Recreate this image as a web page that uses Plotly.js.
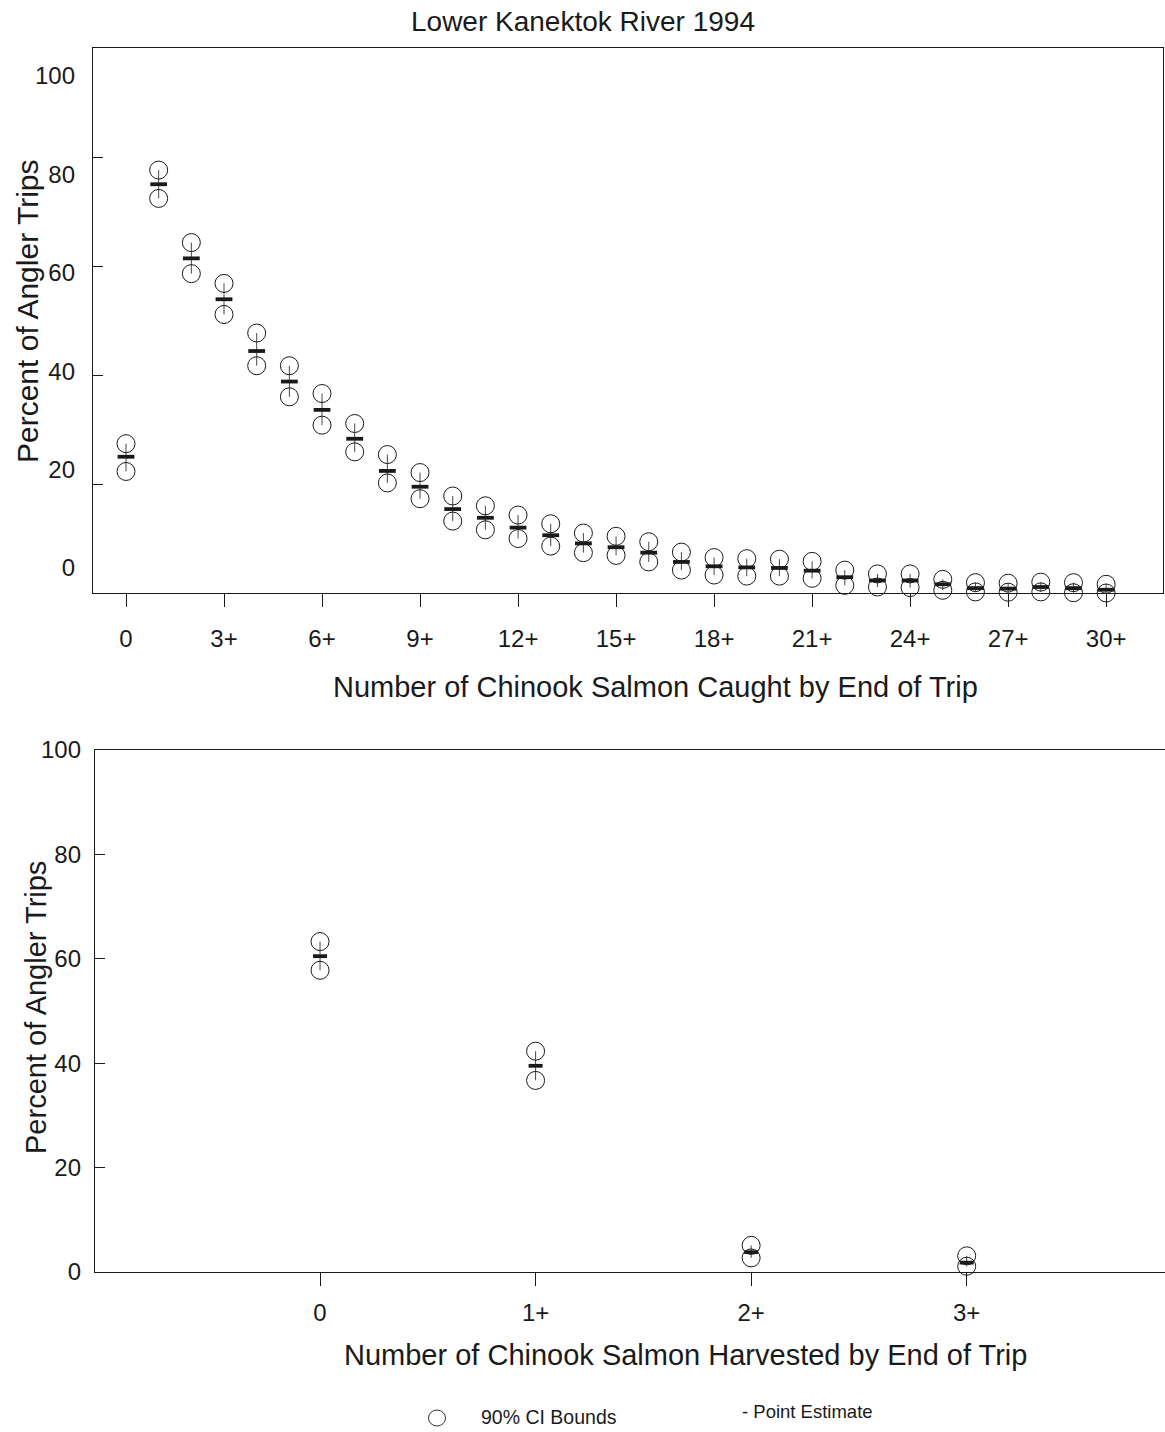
<!DOCTYPE html>
<html>
<head>
<meta charset="utf-8">
<script src="https://cdn.plot.ly/plotly-3.0.1.min.js"></script>
<style>html,body{margin:0;padding:0;background:#fff;}#chart{width:1165px;height:1432px;}</style>
</head>
<body>
<div id="chart"></div>
<script>
// ---- Data: catch (top panel) ----
const caughtCounts = [0,1,2,3,4,5,6,7,8,9,10,11,12,13,14,15,16,17,18,19,20,21,22,23,24,25,26,27,28,29,30];
const caughtTickVals = [0,3,6,9,12,15,18,21,24,27,30];
const caughtTickText = ["0","3+","6+","9+","12+","15+","18+","21+","24+","27+","30+"];
const caughtEstimate = [25.0,75.0,61.4,53.9,44.4,38.8,33.6,28.3,22.4,19.5,15.4,13.8,12.0,10.6,9.1,8.4,7.4,5.7,4.9,4.7,4.6,4.1,2.9,2.3,2.3,1.6,0.9,0.8,1.1,0.9,0.6];
const caughtUpper    = [27.4,77.6,64.3,56.8,47.7,41.7,36.6,31.1,25.4,22.1,17.8,16.0,14.3,12.7,11.0,10.4,9.4,7.5,6.5,6.3,6.2,5.8,4.2,3.5,3.5,2.5,1.9,1.8,2.0,1.9,1.6];
const caughtLower    = [22.3,72.4,58.6,51.1,41.7,36.0,30.8,25.9,20.2,17.3,13.2,11.6,10.0,8.6,7.4,6.9,5.7,4.2,3.3,3.1,3.1,2.7,1.4,1.1,1.0,0.5,0.2,0.15,0.2,0.05,0.0];

// ---- Data: harvest (bottom panel) ----
const harvestCounts = [0,1,2,3];
const harvestTickText = ["0","1+","2+","3+"];
const harvestEstimate = [60.5,39.5,3.8,1.8];
const harvestUpper    = [63.3,42.3,5.1,3.1];
const harvestLower    = [57.8,36.7,2.7,1.1];

const yTickVals = [0,20,40,60,80,100];

const FONT = "Liberation Sans, Arial, Helvetica, sans-serif";
const INK = "#1a1a1a";

function diff(a,b){ return a.map((v,i)=>v-b[i]); }

function panelTraces(xs, est, up, lo, xa, ya, dash){
  return [
    { x: xs, y: est, xaxis: xa, yaxis: ya, type: "scatter", mode: "markers",
      name: "Point Estimate", showlegend: false, cliponaxis: false,
      marker: { symbol: "line-ew", size: dash, color: INK, line: { color: INK, width: 3.8 } },
      error_y: { type: "data", symmetric: false, array: diff(up, est), arrayminus: diff(est, lo),
                 width: 0, thickness: 0.9, color: "#333" } },
    { x: xs, y: up, xaxis: xa, yaxis: ya, type: "scatter", mode: "markers",
      name: "90% CI Bounds", showlegend: false, cliponaxis: false,
      marker: { symbol: "circle-open", size: 18, color: INK, line: { color: INK, width: 1 } } },
    { x: xs, y: lo, xaxis: xa, yaxis: ya, type: "scatter", mode: "markers",
      name: "90% CI Bounds", showlegend: false, cliponaxis: false,
      marker: { symbol: "circle-open", size: 18, color: INK, line: { color: INK, width: 1 } } }
  ];
}

const data = [].concat(
  panelTraces(caughtCounts, caughtEstimate, caughtUpper, caughtLower, "x", "y", 12),
  panelTraces(harvestCounts, harvestEstimate, harvestUpper, harvestLower, "x2", "y2", 10),
  // empty trace so the label-only overlay axis (y3) gets drawn
  [{ x: [], y: [], xaxis: "x", yaxis: "y3", type: "scatter", mode: "markers",
     showlegend: false, hoverinfo: "skip" }]
);

const H = 1432, W = 1165;
const axisCommon = {
  showgrid: false, zeroline: false, showline: true, linecolor: INK, linewidth: 1.2,
  tickcolor: INK, tickwidth: 1, tickfont: { family: FONT, size: 24, color: INK },
  automargin: false, fixedrange: true
};
const topDomain = [1 - 593/H, 1 - 48/H];

const layout = {
  width: W, height: H,
  margin: { l: 0, r: 0, t: 0, b: 0 },
  paper_bgcolor: "#fff", plot_bgcolor: "#fff",
  showlegend: false,
  title: { text: "Lower Kanektok River 1994", x: 583/W, xref: "paper", xanchor: "center",
           y: 1 - 21/H, yref: "paper", yanchor: "middle",
           font: { family: FONT, size: 28, color: INK } },
  xaxis: Object.assign({}, axisCommon, {
    domain: [93/W, 1163/W], range: [-1.01, 31.74],
    tickmode: "array", tickvals: caughtTickVals, ticktext: caughtTickText,
    ticks: "outside", ticklen: 13, ticklabelstandoff: 11, mirror: true, anchor: "y"
  }),
  yaxis: Object.assign({}, axisCommon, {
    domain: topDomain, range: [0, 100],
    tickmode: "array", tickvals: yTickVals, showticklabels: false,
    ticks: "inside", ticklen: 10, mirror: true, anchor: "x"
  }),
  // label-only axis: the printed labels of the upper panel sit slightly off their tick marks
  yaxis3: Object.assign({}, axisCommon, {
    overlaying: "y", side: "left", anchor: "x", range: [-5.07, 105.68],
    showline: false, ticks: "", tickmode: "array", tickvals: yTickVals,
    ticklabelstandoff: 17
  }),
  xaxis2: Object.assign({}, axisCommon, {
    domain: [95/W, 1], range: [-1.044, 3.92],
    tickmode: "array", tickvals: harvestCounts, ticktext: harvestTickText,
    ticks: "outside", ticklen: 13, ticklabelstandoff: 6, mirror: true, anchor: "y2"
  }),
  yaxis2: Object.assign({}, axisCommon, {
    domain: [1 - 1272/H, 1 - 750/H], range: [0, 100],
    tickmode: "array", tickvals: yTickVals,
    ticks: "inside", ticklen: 10, ticklabelstandoff: 8, anchor: "x2"
  }),
  annotations: [
    { text: "Number of Chinook Salmon Caught by End of Trip", xref: "paper", yref: "paper",
      x: 655/W, y: 1 - 687/H, xanchor: "center", yanchor: "middle", showarrow: false,
      font: { family: FONT, size: 29, color: INK } },
    { text: "Percent of Angler Trips", xref: "paper", yref: "paper", textangle: -90,
      x: 27/W, y: 1 - 311/H, xanchor: "center", yanchor: "middle", showarrow: false,
      font: { family: FONT, size: 30, color: INK } },
    { text: "Number of Chinook Salmon Harvested by End of Trip", xref: "paper", yref: "paper",
      x: 685/W, y: 1 - 1355/H, xanchor: "center", yanchor: "middle", showarrow: false,
      font: { family: FONT, size: 29, color: INK } },
    { text: "Percent of Angler Trips", xref: "paper", yref: "paper", textangle: -90,
      x: 36/W, y: 1 - 1008/H, xanchor: "center", yanchor: "middle", showarrow: false,
      font: { family: FONT, size: 29, color: INK } },
    { text: "90% CI Bounds", xref: "paper", yref: "paper",
      x: 479/W, y: 1 - 1417/H, xanchor: "left", yanchor: "middle", showarrow: false,
      font: { family: FONT, size: 19.5, color: INK } },
    { text: "- Point Estimate", xref: "paper", yref: "paper",
      x: 740/W, y: 1 - 1411/H, xanchor: "left", yanchor: "middle", showarrow: false,
      font: { family: FONT, size: 18.5, color: INK } }
  ],
  shapes: [
    { type: "circle", xref: "paper", yref: "paper",
      x0: 428.5/W, x1: 445.5/W, y0: 1 - 1426/H, y1: 1 - 1410/H,
      line: { color: "#333", width: 1 }, fillcolor: "rgba(0,0,0,0)" }
  ]
};

Plotly.newPlot("chart", data, layout, { staticPlot: true, displayModeBar: false });
</script>
</body>
</html>
